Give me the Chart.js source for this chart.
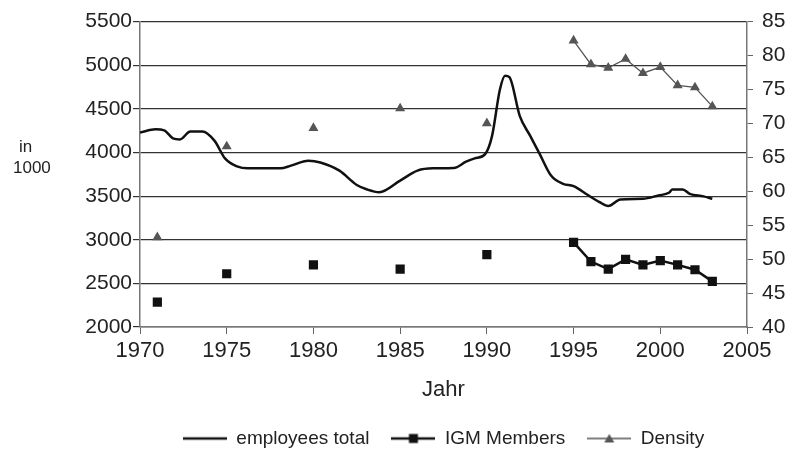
<!DOCTYPE html>
<html lang="en">
<head>
<meta charset="UTF-8">
<title>Employees, IGM Members and Density</title>
<script src="https://cdn.jsdelivr.net/npm/chart.js"></script>
<style>
  html, body { margin: 0; padding: 0; background: #fff; }
  #wrap { width: 794px; height: 453px; }
</style>
</head>
<body>
<div id="wrap"><canvas id="chart" width="794" height="453"></canvas></div>
<script>
// employees total (in 1000)
const empYears = [1970, 1970.9, 1971.4, 1971.9, 1972.3, 1972.9, 1973.6, 1974.3, 1974.9, 1975.6,
                  1976.2, 1978.1, 1978.7, 1979.7, 1980.4, 1981.5, 1982.5, 1983.1, 1983.8, 1985,
                  1986, 1986.9, 1988.1, 1988.8, 1989.3, 1989.9, 1990.3, 1990.75, 1991.05, 1991.3,
                  1991.9, 1992.5, 1993.05, 1993.7, 1994.4, 1995, 1995.8, 1996.5, 1997, 1997.7,
                  1999, 1999.9, 2000.5, 2000.7, 2001.3, 2001.7, 2002.5, 2003];
const empValues = [4230, 4265, 4253, 4162, 4150, 4240, 4240, 4133, 3932, 3841,
                   3818, 3818, 3849, 3905, 3886, 3792, 3628, 3576, 3545, 3678,
                   3792, 3818, 3822, 3894, 3932, 3981, 4190, 4720, 4880, 4864,
                   4417, 4190, 3981, 3735, 3640, 3614, 3515, 3432, 3386, 3462,
                   3469, 3508, 3538, 3576, 3576, 3526, 3497, 3469];

// IGM members (in 1000) and density (%)
const igmYears = [1971, 1975, 1980, 1985, 1990, 1995, 1996, 1997, 1998, 1999, 2000, 2001, 2002, 2003];
const igmValues = [2284, 2610, 2712, 2663, 2830, 2970, 2750, 2663, 2776, 2712, 2761, 2712, 2656, 2523];
const densityYears = [1971, 1975, 1980, 1985, 1990, 1995, 1996, 1997, 1998, 1999, 2000, 2001, 2002, 2003];
const densityValues = [53.2, 66.6, 69.3, 72.2, 70.0, 82.2, 78.7, 78.2, 79.5, 77.4, 78.3, 75.6, 75.3, 72.5];

const seriesNames = ['employees total', 'IGM Members', 'Density'];
const yearTicks = { min: 1970, max: 2005, step: 5 };
const leftTicks = { min: 2000, max: 5500, step: 500 };
const rightTicks = { min: 40, max: 85, step: 5 };

const FONT = '"Liberation Sans", Arial, sans-serif';
const TEXT = '#222';

function toPoints(xs, ys) {
  return xs.map((x, i) => ({ x: x, y: ys[i] }));
}

// legend icon: short line with optional marker in the middle
function legendIcon(color, width, marker) {
  const c = document.createElement('canvas');
  c.width = 44; c.height = 12;
  const g = c.getContext('2d');
  g.strokeStyle = color; g.lineWidth = width;
  g.beginPath(); g.moveTo(0, 6); g.lineTo(44, 6); g.stroke();
  g.fillStyle = color;
  if (marker === 'rect') g.fillRect(17.5, 1.5, 9, 9);
  if (marker === 'triangle') {
    g.beginPath(); g.moveTo(22, 1.5); g.lineTo(27, 10); g.lineTo(17, 10); g.closePath(); g.fill();
  }
  return c;
}
const icons = [legendIcon('#111', 2.5), legendIcon('#111', 2.5, 'rect'), legendIcon('#555', 1.3, 'triangle')];

// hide the joins between the isolated early years
function gapColor(color) {
  return ctx => (ctx.p1.parsed.x - ctx.p0.parsed.x > 1 ? 'rgba(0,0,0,0)' : color);
}

const axisNote = {
  id: 'axisNote',
  afterDraw(chart) {
    const ctx = chart.ctx;
    ctx.save();
    ctx.font = '17px ' + FONT;
    ctx.fillStyle = TEXT;
    ctx.fillText('in', 19, 147);
    ctx.fillText('1000', 13, 168);
    ctx.restore();
  }
};

new Chart(document.getElementById('chart'), {
  type: 'line',
  data: {
    datasets: [
      {
        label: seriesNames[0],
        data: toPoints(empYears, empValues),
        yAxisID: 'y',
        borderColor: '#111',
        borderWidth: 2.5,
        pointRadius: 0,
        cubicInterpolationMode: 'monotone'
      },
      {
        label: seriesNames[1],
        data: toPoints(igmYears, igmValues),
        yAxisID: 'y',
        borderColor: '#111',
        backgroundColor: '#111',
        borderWidth: 2.5,
        pointStyle: 'rect',
        pointRadius: 6.5,
        pointBorderWidth: 0,
        segment: { borderColor: gapColor('#111') }
      },
      {
        label: seriesNames[2],
        data: toPoints(densityYears, densityValues),
        yAxisID: 'y1',
        borderColor: '#555',
        backgroundColor: '#555',
        borderWidth: 1.3,
        pointStyle: 'triangle',
        pointRadius: 5.8,
        pointBorderWidth: 0,
        segment: { borderColor: gapColor('#555') }
      }
    ]
  },
  options: {
    responsive: false,
    animation: false,
    layout: { padding: { top: 16, left: 0, right: 0, bottom: -5 } },
    plugins: {
      tooltip: { enabled: false },
      legend: {
        position: 'bottom',
        fullSize: false,
        labels: {
          usePointStyle: true,
          pointStyleWidth: 44,
          padding: 22,
          color: TEXT,
          font: { family: FONT, size: 19 },
          generateLabels: chart => chart.data.datasets.map((ds, i) => ({
            text: ds.label,
            pointStyle: icons[i],
            fillStyle: 'transparent',
            strokeStyle: 'transparent',
            lineWidth: 0,
            hidden: false,
            datasetIndex: i,
            fontColor: TEXT
          }))
        }
      }
    },
    scales: {
      x: {
        type: 'linear',
        min: yearTicks.min,
        max: yearTicks.max,
        afterFit: s => { s.height = 80; },
        ticks: { stepSize: yearTicks.step, color: TEXT, padding: 4, font: { family: FONT, size: 22 }, callback: v => String(v) },
        grid: { drawOnChartArea: false, color: '#666', tickLength: 7 },
        border: { color: '#777', width: 1.5 },
        title: { display: true, text: 'Jahr', color: TEXT, font: { family: FONT, size: 22 }, padding: { top: 4 } }
      },
      y: {
        position: 'left',
        min: leftTicks.min,
        max: leftTicks.max,
        afterFit: s => { s.width = 140; },
        ticks: { stepSize: leftTicks.step, color: TEXT, padding: 1, font: { family: FONT, size: 21 }, callback: v => String(v) },
        grid: { color: '#333', lineWidth: 1.2, tickLength: 7 },
        border: { color: '#777', width: 1.5 }
      },
      y1: {
        position: 'right',
        min: rightTicks.min,
        max: rightTicks.max,
        afterFit: s => { s.width = 47; },
        ticks: { stepSize: rightTicks.step, color: TEXT, padding: 9, font: { family: FONT, size: 21 } },
        grid: { drawOnChartArea: false, color: '#666', tickLength: 6 },
        border: { color: '#777', width: 1.5 }
      }
    }
  },
  plugins: [axisNote]
});
</script>
</body>
</html>
